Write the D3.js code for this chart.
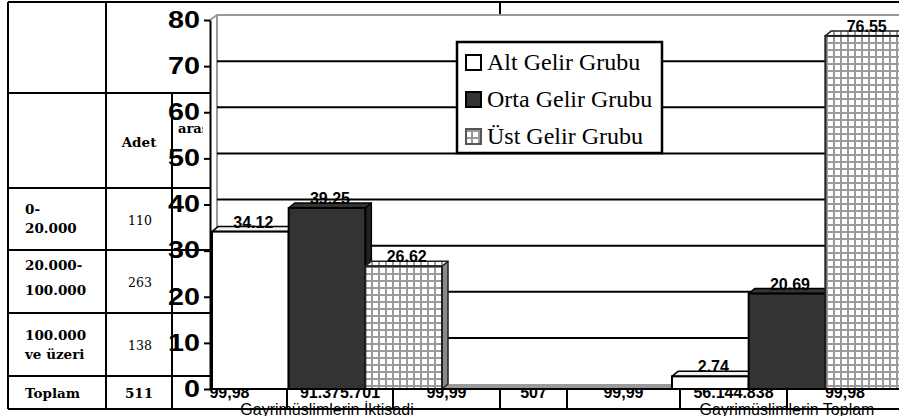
<!DOCTYPE html>
<html>
<head>
<meta charset="utf-8">
<script src="https://cdn.jsdelivr.net/npm/d3@7"></script>
<style>
  html, body { margin: 0; padding: 0; background: #fff; }
  svg { display: block; }
</style>
</head>
<body>
<div id="chart"></div>
<script>
// chart data
const categories = ['Gayrimüslimlerin İktisadi', 'Gayrimüslimlerin Toplam'];
const seriesNames = ['Alt Gelir Grubu', 'Orta Gelir Grubu', 'Üst Gelir Grubu'];
const altValues = [34.12, 2.74];
const ortaValues = [39.25, 20.69];
const ustValues = [26.62, 76.55];
const yTicks = [0, 10, 20, 30, 40, 50, 60, 70, 80];

// table behind the chart
const rangeLabels = [['0-', '20.000'], ['20.000-', '100.000'], ['100.000', 've üzeri']];
const rangeCounts = ['110', '263', '138'];
const totalLabel = 'Toplam';
const totalCount = '511';
const bottomRowValues = ['99,98', '91.375.701', '99,99', '507', '99,99', '56.144.838', '99,98'];

const width = 899;
const height = 416;
const serif = "'DejaVu Serif', serif";
const sans = "'Liberation Sans', Arial, sans-serif";
const times = "'Liberation Serif', 'Times New Roman', serif";

const svg = d3
  .select('#chart')
  .append('svg')
  .attr('width', width)
  .attr('height', height)
  .attr('viewBox', `0 0 ${width} ${height}`);

const defs = svg.append('defs');
// grid pattern for the Üst bars
const pat = defs
  .append('pattern')
  .attr('id', 'grid')
  .attr('patternUnits', 'userSpaceOnUse')
  .attr('width', 7)
  .attr('height', 7);
pat.append('rect').attr('width', 7).attr('height', 7).attr('fill', '#fff');
pat.append('rect').attr('width', 7).attr('height', 2).attr('fill', '#9a9a9a');
pat.append('rect').attr('width', 2).attr('height', 7).attr('fill', '#9a9a9a');

defs
  .append('clipPath')
  .attr('id', 'col3')
  .append('rect')
  .attr('x', 172)
  .attr('y', 93)
  .attr('width', 31)
  .attr('height', 95);

// ---------- table (under the chart) ----------
const table = svg.append('g').attr('stroke', '#000').attr('stroke-width', 2);
const rowLines = [93, 188, 250, 313, 376];
table.append('line').attr('x1', 8).attr('x2', 899).attr('y1', 2).attr('y2', 2);
table.append('line').attr('x1', 8).attr('x2', 899).attr('y1', 409).attr('y2', 409);
table
  .selectAll('.row')
  .data(rowLines)
  .enter()
  .append('line')
  .attr('x1', 8)
  .attr('x2', 210)
  .attr('y1', (d) => d)
  .attr('y2', (d) => d);
table.append('line').attr('x1', 8).attr('x2', 8).attr('y1', 2).attr('y2', 409);
table.append('line').attr('x1', 106).attr('x2', 106).attr('y1', 2).attr('y2', 409);
table.append('line').attr('x1', 172).attr('x2', 172).attr('y1', 93).attr('y2', 409);
table.append('line').attr('x1', 500).attr('x2', 500).attr('y1', 2).attr('y2', 20);

const bottomCells = [172, 287, 393, 500, 567, 680, 787, 903];
table
  .selectAll('.vcell')
  .data(bottomCells.slice(1, -1))
  .enter()
  .append('line')
  .attr('x1', (d) => d)
  .attr('x2', (d) => d)
  .attr('y1', 380)
  .attr('y2', 409);

const tText = svg.append('g').attr('fill', '#000');
tText
  .append('text')
  .attr('x', 139)
  .attr('y', 147)
  .attr('text-anchor', 'middle')
  .attr('font-family', serif)
  .attr('font-weight', 'bold')
  .attr('font-size', 13.5)
  .text('Adet');
tText
  .append('text')
  .attr('x', 178)
  .attr('y', 133)
  .attr('clip-path', 'url(#col3)')
  .attr('font-family', serif)
  .attr('font-weight', 'bold')
  .attr('font-size', 13)
  .text('araştırma');

const rangeBaselines = [[214, 233], [270, 295], [340, 359]];
const countBaselines = [225, 287, 350];
rangeLabels.forEach((lines, i) => {
  lines.forEach((line, j) => {
    tText
      .append('text')
      .attr('x', 25)
      .attr('y', rangeBaselines[i][j])
      .attr('font-family', serif)
      .attr('font-weight', 'bold')
      .attr('font-size', 13.5)
      .text(line);
  });
  tText
    .append('text')
    .attr('x', 140)
    .attr('y', countBaselines[i])
    .attr('text-anchor', 'middle')
    .attr('font-family', serif)
    .attr('font-size', 12.5)
    .text(rangeCounts[i]);
});
tText
  .append('text')
  .attr('x', 25)
  .attr('y', 398)
  .attr('font-family', serif)
  .attr('font-weight', 'bold')
  .attr('font-size', 13.5)
  .text(totalLabel);
tText
  .append('text')
  .attr('x', 139)
  .attr('y', 398)
  .attr('text-anchor', 'middle')
  .attr('font-family', serif)
  .attr('font-weight', 'bold')
  .attr('font-size', 13.5)
  .text(totalCount);
tText
  .selectAll('.bottomVal')
  .data(bottomRowValues)
  .enter()
  .append('text')
  .attr('x', (d, i) => (bottomCells[i] + bottomCells[i + 1]) / 2)
  .attr('y', 398)
  .attr('text-anchor', 'middle')
  .attr('font-family', sans)
  .attr('font-weight', 'bold')
  .attr('font-size', 16)
  .text((d) => d);

// ---------- chart ----------
const plot = { left: 210, top: 20, bottom: 389, right: 899 };
const depth = { x: 6, y: 5 }; // 3d depth offset

const y = d3.scaleLinear().domain([0, 80]).range([plot.bottom, plot.top]);

// category bands; the bar group fills the middle half of every band
const x0 = d3.scaleBand().domain(categories).range([97, 1017]).paddingInner(0);
const x1 = d3.scaleBand().domain(seriesNames).range([0, x0.bandwidth()]).paddingOuter(1.5);

// white plot area covers the table
svg
  .append('rect')
  .attr('x', plot.left + 1)
  .attr('y', 14)
  .attr('width', plot.right - plot.left)
  .attr('height', plot.bottom - 14)
  .attr('fill', '#fff');

// back wall edges
svg
  .append('path')
  .attr('d', `M${plot.left},${plot.top} L${plot.left + depth.x + 1},15 L${plot.right},15 M${plot.left + depth.x + 1},15 L${plot.left + depth.x + 1},${plot.bottom - depth.y}`)
  .attr('fill', 'none')
  .attr('stroke', '#999')
  .attr('stroke-width', 2);

// floor
svg
  .append('path')
  .attr('d', `M${plot.left},${plot.bottom} L${plot.left + depth.x},${plot.bottom - depth.y} L${plot.right},${plot.bottom - depth.y} L${plot.right},${plot.bottom} Z`)
  .attr('fill', '#9a9a9a');

// gridlines
svg
  .append('g')
  .selectAll('line')
  .data(yTicks.filter((d) => d > 0 && d < 80))
  .enter()
  .append('line')
  .attr('x1', plot.left + depth.x + 1)
  .attr('x2', plot.right)
  .attr('y1', (d) => y(d) - depth.y)
  .attr('y2', (d) => y(d) - depth.y)
  .attr('stroke', '#000')
  .attr('stroke-width', 2);

const seriesData = [
  { name: seriesNames[0], values: altValues, front: '#fff', top: '#f2f2f2', side: '#fff', stroke: '#000' },
  { name: seriesNames[1], values: ortaValues, front: '#333', top: '#333', side: '#222', stroke: '#000' },
  { name: seriesNames[2], values: ustValues, front: 'url(#grid)', top: 'url(#grid)', side: '#8a8a8a', stroke: '#222' },
];

const bars = [];
seriesData.forEach((s) => {
  s.values.forEach((v, i) => {
    bars.push({ series: s, cat: categories[i], value: v });
  });
});

const barG = svg
  .append('g')
  .selectAll('g')
  .data(bars)
  .enter()
  .append('g');

const bx0 = (d) => x0(d.cat) + x1(d.series.name);
const bx1 = (d) => bx0(d) + x1.bandwidth();

// right face
barG
  .append('path')
  .attr('d', (d) => `M${bx1(d)},${y(d.value)} L${bx1(d) + depth.x},${y(d.value) - depth.y} L${bx1(d) + depth.x},${y(0) - depth.y} L${bx1(d)},${y(0)} Z`)
  .attr('fill', (d) => d.series.side)
  .attr('stroke', (d) => d.series.stroke)
  .attr('stroke-width', 1.5)
  .attr('stroke-linejoin', 'round');
// top face
barG
  .append('path')
  .attr('d', (d) => `M${bx0(d)},${y(d.value)} L${bx0(d) + depth.x},${y(d.value) - depth.y} L${bx1(d) + depth.x},${y(d.value) - depth.y} L${bx1(d)},${y(d.value)} Z`)
  .attr('fill', (d) => d.series.top)
  .attr('stroke', (d) => d.series.stroke)
  .attr('stroke-width', 1.5)
  .attr('stroke-linejoin', 'round');
// front face
barG
  .append('rect')
  .attr('x', bx0)
  .attr('y', (d) => y(d.value))
  .attr('width', x1.bandwidth())
  .attr('height', (d) => y(0) - y(d.value))
  .attr('fill', (d) => d.series.front)
  .attr('stroke', (d) => d.series.stroke)
  .attr('stroke-width', 2);

// value labels
svg
  .append('g')
  .selectAll('text')
  .data(bars)
  .enter()
  .append('text')
  .attr('x', (d) => (bx0(d) + bx1(d)) / 2 + depth.x / 2)
  .attr('y', (d) => y(d.value) - 4)
  .attr('text-anchor', 'middle')
  .attr('font-family', sans)
  .attr('font-weight', 'bold')
  .attr('font-size', 16)
  .text((d) => d3.format('.2f')(d.value));

// y axis
const tickScale = 1.25;
svg
  .append('g')
  .attr('transform', `translate(${plot.left}, 0)`)
  .call(d3.axisLeft(y).tickValues(yTicks).tickSize(6).tickSizeOuter(0))
  .call((g) => g.select('.domain').attr('stroke', '#000').attr('stroke-width', 2))
  .call((g) => g.selectAll('.tick line').attr('stroke', '#000').attr('stroke-width', 2))
  .call((g) =>
    g
      .selectAll('.tick text')
      .attr('x', -10 / tickScale)
      .attr('transform', `scale(${tickScale},1)`)
      .attr('fill', '#000')
      .attr('font-family', sans)
      .attr('font-weight', 'bold')
      .attr('font-size', 23)
  );

// axis base line
svg
  .append('line')
  .attr('x1', plot.left)
  .attr('x2', plot.right)
  .attr('y1', plot.bottom)
  .attr('y2', plot.bottom)
  .attr('stroke', '#000')
  .attr('stroke-width', 2);

// category labels (cut by the bottom edge, as in the source)
svg
  .append('g')
  .selectAll('text')
  .data(categories)
  .enter()
  .append('text')
  .attr('x', (d) => x0(d) + x0.bandwidth() / 2)
  .attr('y', 415)
  .attr('text-anchor', 'middle')
  .attr('font-family', sans)
  .attr('font-size', 16)
  .text((d) => d);

// legend
const legend = svg.append('g').attr('transform', 'translate(457, 42)');
legend
  .append('rect')
  .attr('width', 205)
  .attr('height', 111)
  .attr('fill', '#fff')
  .attr('stroke', '#000')
  .attr('stroke-width', 2.5);
const item = legend
  .selectAll('g')
  .data(seriesData)
  .enter()
  .append('g')
  .attr('transform', (d, i) => `translate(0, ${i * 37})`);
item
  .append('rect')
  .attr('x', 9)
  .attr('y', 13)
  .attr('width', 15)
  .attr('height', 15)
  .attr('fill', (d) => d.front)
  .attr('stroke', (d) => (d.name === seriesNames[2] ? '#555' : '#000'))
  .attr('stroke-width', 2);
item
  .append('text')
  .attr('x', 30)
  .attr('y', 28)
  .attr('fill', '#000')
  .attr('font-family', times)
  .attr('font-size', 24)
  .text((d) => d.name);
</script>
</body>
</html>
